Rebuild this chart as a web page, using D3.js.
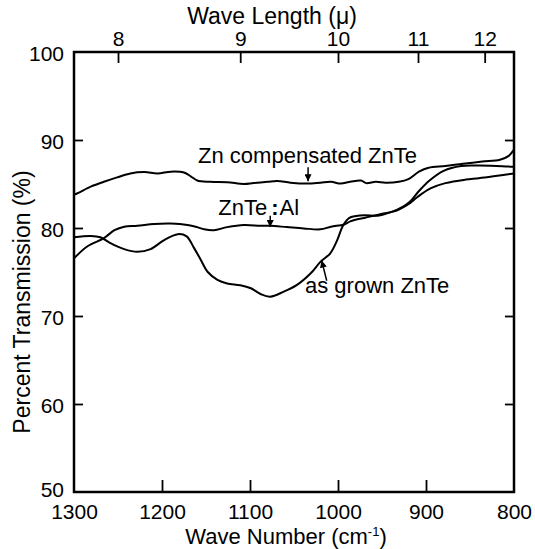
<!DOCTYPE html>
<html>
<head>
<meta charset="utf-8">
<script src="https://cdn.jsdelivr.net/npm/d3@7"></script>
<style>
    body { margin: 0; background: #fff; }
    svg text { font-family: "Liberation Sans", Arial, sans-serif; fill: #000; }
</style>
</head>
<body>
<div id="chart-div"></div>
<script>
//---------------------------------//
// Data                            //
//---------------------------------//

// tick values
var wavenumberTicks = [1300, 1200, 1100, 1000, 900, 800];
var transmissionTicks = [50, 60, 70, 80, 90, 100];
var wavelengthTicks = [8, 9, 10, 11, 12]; // microns, top axis

// [wave number (cm-1), transmission (%)]
var znCompensated = [
    [1300, 83.8], [1296, 83.95], [1281, 84.7], [1266, 85.25], [1251, 85.75], [1236, 86.2],
    [1220, 86.35], [1205, 86.2], [1190, 86.4], [1175, 86.3], [1167, 85.85], [1160, 85.4],
    [1145, 85.25], [1126, 85.2], [1107, 85.0], [1096, 85.1], [1080, 85.25], [1069, 85.35],
    [1054, 85.15], [1035, 85.05], [1020, 85.15], [1008, 85.25], [997, 85.05], [986, 85.25],
    [974, 85.4], [968, 85.1], [957, 85.25], [946, 85.15], [931, 85.25], [920, 85.55],
    [908, 86.4], [897, 86.85], [878, 87.05], [858, 87.3], [836, 87.55], [816, 87.75],
    [806, 88.2], [800, 88.9]
];

var znteAl = [
    [1300, 76.55], [1285, 77.9], [1266, 78.85], [1254, 79.75], [1243, 80.15], [1228, 80.25],
    [1209, 80.45], [1190, 80.5], [1171, 80.35], [1160, 80.1], [1152, 79.85], [1141, 79.75],
    [1126, 80.1], [1107, 80.35], [1088, 80.25], [1077, 80.25], [1058, 80.1], [1039, 79.95],
    [1020, 79.85], [1008, 80.15], [993, 80.4], [986, 80.75], [968, 81.2], [951, 81.6],
    [934, 81.95], [920, 82.7], [910, 83.5], [895, 84.5], [878, 85.1], [855, 85.5],
    [840, 85.65], [821, 85.9], [800, 86.2]
];

var asGrown = [
    [1300, 78.95], [1281, 79.1], [1270, 78.95], [1258, 78.25], [1243, 77.6], [1228, 77.3],
    [1213, 77.6], [1198, 78.6], [1182, 79.3], [1172, 79.05], [1164, 77.8], [1156, 76.4],
    [1148, 75.0], [1137, 74.1], [1126, 73.7], [1111, 73.5], [1099, 73.15], [1088, 72.5],
    [1077, 72.2], [1062, 72.75], [1047, 73.5], [1031, 74.85], [1020, 76.15], [1009, 77.1],
    [1001, 78.6], [995, 80.15], [990, 80.9], [985, 81.25], [970, 81.45], [955, 81.4],
    [940, 81.8], [925, 82.5], [918, 83.0], [908, 84.2], [896, 85.4], [880, 86.5],
    [860, 87.05], [840, 87.1], [820, 87.05], [800, 86.95]
];

//---------------------------------//
// Chart                           //
//---------------------------------//

var Chart = {};

Chart.init = function() {
    Chart.width = 535;
    Chart.height = 549;
    Chart.left = 74;
    Chart.right = 514;
    Chart.top = 52;
    Chart.bottom = 492;

    Chart.svg = d3.select('#chart-div').append('svg')
                  .attr('width', Chart.width)
                  .attr('height', Chart.height);

    Chart.x = d3.scaleLinear().domain([1300, 800]).range([Chart.left, Chart.right]);
    Chart.y = d3.scaleLinear().domain([50, 100]).range([Chart.bottom, Chart.top]);

    Chart.drawAxes();
    Chart.drawCurves();
    Chart.drawLabels();
};

Chart.drawAxes = function() {
    var svg = Chart.svg;
    var inner = function(d, i, arr) { return i > 0 && i < arr.length - 1; };

    // bottom axis - ticks point up into the plot
    var bottom = svg.append('g')
        .attr('transform', 'translate(0,' + Chart.bottom + ')')
        .call(d3.axisBottom(Chart.x).tickValues(wavenumberTicks)
                .tickSize(0).tickPadding(12).tickFormat(d3.format('d')));
    bottom.selectAll('.tick').append('line')
        .filter(function(d, i, arr) { return inner(d, i, arr); })
        .attr('y2', -12);

    // left axis
    var left = svg.append('g')
        .attr('transform', 'translate(' + Chart.left + ',0)')
        .call(d3.axisLeft(Chart.y).tickValues(transmissionTicks).tickSize(0).tickPadding(10));
    left.selectAll('.tick').append('line')
        .filter(function(d, i, arr) { return inner(d, i, arr); })
        .attr('x2', 9);

    // right axis, ticks only
    var right = svg.append('g')
        .attr('transform', 'translate(' + Chart.right + ',0)')
        .call(d3.axisRight(Chart.y).tickValues(transmissionTicks.slice(1, -1)).tickSize(-9).tickFormat(''));

    // top axis in wave length (micron) -> wave number = 1e4 / lambda
    var top = svg.append('g')
        .attr('transform', 'translate(0,' + Chart.top + ')')
        .call(d3.axisTop(Chart.x).tickValues(wavelengthTicks.map(function(l) { return 1e4 / l; }))
                .tickSize(-11).tickPadding(6)
                .tickFormat(function(d) { return Math.round(1e4 / d); }));
    top.selectAll('.tick text').attr('dy', '0');

    [bottom, left, right, top].forEach(function(g) {
        g.select('.domain').remove();
        g.selectAll('.tick line').attr('stroke', '#000').attr('stroke-width', 1.8);
        g.selectAll('.tick text').attr('font-size', 21).attr('fill', '#000');
    });
    left.selectAll('.tick text').attr('dy', function(d) { return d === 50 ? '0.2em' : '0.4em'; });
    bottom.selectAll('.tick text').attr('dy', '0.72em');

    // frame
    svg.append('rect')
        .attr('x', Chart.left).attr('y', Chart.top)
        .attr('width', Chart.right - Chart.left)
        .attr('height', Chart.bottom - Chart.top)
        .attr('fill', 'none')
        .attr('stroke', '#000')
        .attr('stroke-width', 2.5);
};

Chart.drawCurves = function() {
    var line = d3.line()
        .x(function(d) { return Chart.x(d[0]); })
        .y(function(d) { return Chart.y(d[1]); })
        .curve(d3.curveCatmullRom.alpha(0.5));

    [znCompensated, znteAl, asGrown].forEach(function(series) {
        Chart.svg.append('path')
            .datum(series)
            .attr('d', line)
            .attr('fill', 'none')
            .attr('stroke', '#000')
            .attr('stroke-width', 2)
            .attr('stroke-linejoin', 'round');
    });
};

Chart.drawLabels = function() {
    var svg = Chart.svg;
    var x = Chart.x, y = Chart.y;

    svg.append('defs').append('marker')
        .attr('id', 'head')
        .attr('viewBox', '0 0 10 10')
        .attr('refX', 10).attr('refY', 5)
        .attr('markerWidth', 7).attr('markerHeight', 7)
        .attr('markerUnits', 'userSpaceOnUse')
        .attr('orient', 'auto')
        .append('path').attr('d', 'M0,0L10,5L0,10z').attr('fill', '#000');

    function arrow(x1, y1, x2, y2) {
        svg.append('line')
            .attr('x1', x(x1)).attr('y1', y(y1))
            .attr('x2', x(x2)).attr('y2', y(y2))
            .attr('stroke', '#000').attr('stroke-width', 1.5)
            .attr('marker-end', 'url(#head)');
    }

    // curve annotations
    svg.append('text').attr('x', x(1159)).attr('y', y(87.4))
        .attr('font-size', 22).text('Zn compensated ZnTe');
    arrow(1034, 86.9, 1034, 85.3);

    var al = svg.append('text').attr('x', x(1136)).attr('y', y(81.5)).attr('font-size', 22);
    al.append('tspan').text('ZnTe');
    al.append('tspan').attr('dx', 4).attr('font-weight', 'bold').text(':');
    al.append('tspan').attr('dx', 1).text('Al');
    arrow(1077, 81.4, 1077, 80.1);

    svg.append('text').attr('x', x(1037.5)).attr('y', y(72.6))
        .attr('font-size', 22).text('as grown ZnTe');
    arrow(1012.8, 74.0, 1018.5, 76.3);

    // axis titles
    svg.append('text').attr('x', 272).attr('y', 24)
        .attr('text-anchor', 'middle').attr('font-size', 23)
        .text('Wave Length (\u03bc)');

    var xt = svg.append('text').attr('x', 286).attr('y', 544)
        .attr('text-anchor', 'middle').attr('font-size', 22);
    xt.append('tspan').text('Wave Number  (cm');
    xt.append('tspan').attr('font-size', 13).attr('dy', -8).text('-1');
    xt.append('tspan').attr('dy', 8).text(')');

    svg.append('text')
        .attr('transform', 'translate(30,302) rotate(-90)')
        .attr('text-anchor', 'middle').attr('font-size', 23)
        .text('Percent Transmission (%)');
};

document.addEventListener('DOMContentLoaded', Chart.init);
</script>
</body>
</html>
